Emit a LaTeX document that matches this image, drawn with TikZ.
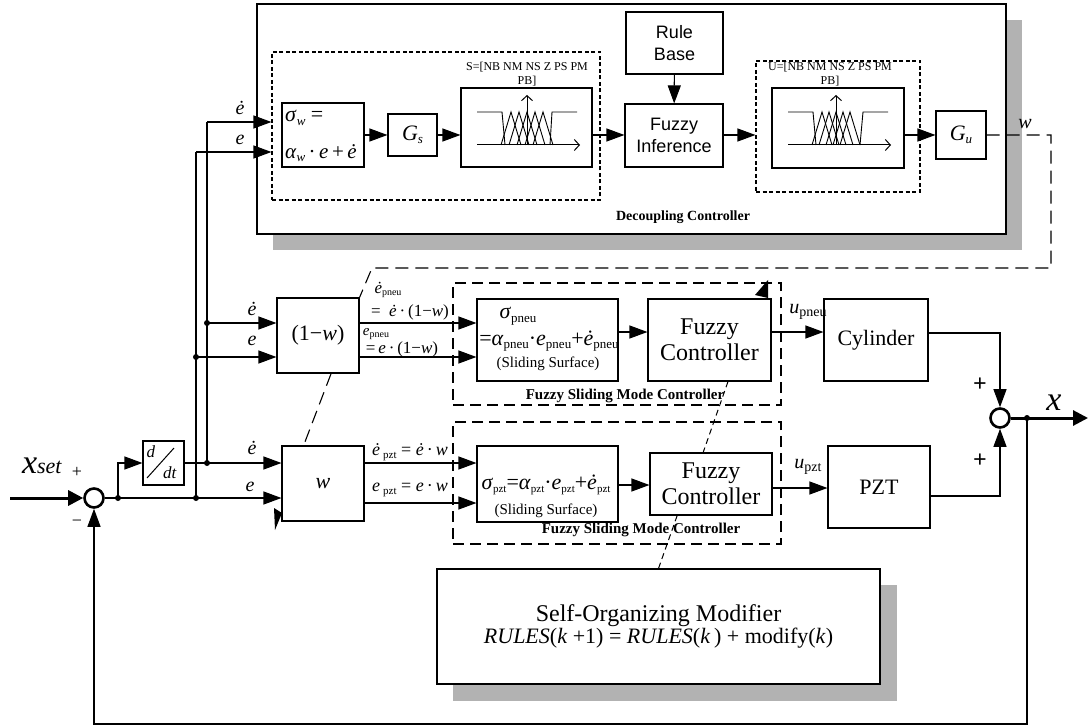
\documentclass[tikz,border=0pt]{standalone}
\usepackage{fontspec}
\setmainfont{Liberation Serif}
\newfontfamily\arialf{Liberation Sans}
\usetikzlibrary{arrows.meta}
\newcommand{\fsz}[2]{\fontsize{#1}{#2}\selectfont}
\newcommand{\sbt}[2]{\raisebox{-0.35ex}{\fontsize{#1}{#1}\selectfont #2}}
\definecolor{shadowc}{gray}{0.70}
\tikzset{
  blk/.style={draw, line width=1.1pt, inner sep=0pt, align=center},
  ln/.style={line width=1.1pt},
  arr/.style={line width=1.1pt, -{Triangle[length=18pt,width=13pt]}},
  bigarr/.style={line width=3pt, -{Triangle[length=15pt,width=15pt]}},
  dashbox/.style={draw, line width=1.1pt, dash pattern=on 4pt off 2.5pt},
  fsmbox/.style={draw, line width=1.1pt, dash pattern=on 11pt off 6pt},
  ldash/.style={line width=1.1pt, dash pattern=on 13pt off 7pt},
  sdash/.style={line width=1pt, dash pattern=on 6pt off 4pt},
  dot/.style={circle, fill, inner sep=0pt, minimum size=6pt},
  sumj/.style={circle, draw, line width=2.6pt, minimum size=19pt, inner sep=0pt},
  lbl/.style={inner sep=0pt},
  mf/.style={line width=0.9pt},
  axarr/.style={line width=1pt, -{Straight Barb[length=5pt,width=11pt]}},
  sansbig/.style={font={\arialf\fsz{18}{22}}},
  serifbig/.style={font={\fsz{24}{26}}},
  mflab/.style={lbl, align=center, font={\fsz{12}{14}}},
}
\begin{document}
\begin{tikzpicture}[x=1pt,y=-1pt]
\useasboundingbox (0,0) rectangle (1089,727);

% ---------- Decoupling controller ----------
\fill[shadowc] (273,20) rectangle (1022,250);
\node[blk, fill=white, minimum width=749, minimum height=230] (dc) at (631.5,119) {};
\node[lbl] (dclab) at (683,217) {\bfseries\fsz{14}{16}Decoupling Controller};

\node[dashbox, minimum width=328, minimum height=148] (d1) at (436,126) {};
\node[blk, minimum width=82, minimum height=64] (sw) at (323,135) {};
\node[lbl, anchor=west] (swt1) at (285,118) {\fsz{22}{22}\textit{σ}\sbt{13}{\textit{w}} =};
\node[lbl, anchor=west] (swt2) at (285,153) {\fsz{21}{21}\textit{α}\sbt{13}{\textit{w}}\,·\,\textit{e}\,+\,\textit{ė}};
\node[blk, minimum width=49, minimum height=42] (gs) at (412.5,135) {\fsz{22}{22}\textit{G}\sbt{13}{\textit{s}}};
\node[blk, minimum width=131, minimum height=79] (sb) at (526.5,127.5) {};
\node[mflab] (slab) at (527,74) {S=[NB NM NS Z PS PM\\PB]};
\node[blk, sansbig, minimum width=98, minimum height=63] (fi) at (674,135.5) {Fuzzy\\Inference};
\node[blk, sansbig, minimum width=97, minimum height=62] (rb) at (674.5,43) {Rule\\Base};
\node[dashbox, minimum width=164, minimum height=131] (d2) at (838,126.5) {};
\node[blk, minimum width=132, minimum height=80] (ub) at (838,128) {};
\node[mflab] (ulab) at (830,74) {U=[NB NM NS Z PS PM\\PB]};
\node[blk, minimum width=50, minimum height=48] (gu) at (961,135) {\fsz{22}{22}\textit{G}\sbt{13}{\textit{u}}};
\node[lbl] (wlab) at (1025,124) {\fsz{20}{20}\textit{w}};

% membership functions S
\draw[mf] (477,112) -- (502,112) -- (505,145);
\draw[mf] (550,145) -- (552,112) -- (577,112);
\foreach \p in {511,519,527,535,543} \draw[mf] (\p-10,145) -- (\p,112) -- (\p+10,145);
\draw[axarr] (477,145) -- (580,145);
\draw[axarr] (527,145) -- (527,95);
% membership functions U
\draw[mf] (788,112) -- (813,112) -- (816,145);
\draw[mf] (860,145) -- (863,112) -- (888,112);
\foreach \p in {822,829,836,843,850} \draw[mf] (\p-10,145) -- (\p,112) -- (\p+10,145);
\draw[axarr] (788,145) -- (891,145);
\draw[axarr] (836,145) -- (836,95);

\coordinate (r1) at (0,135);
\draw[arr] (sw.east |- r1) -- (gs.west |- r1);
\draw[arr] (gs.east |- r1) -- (sb.west |- r1);
\draw[arr] (sb.east |- r1) -- (fi.west |- r1);
\draw[arr] (rb) -- (fi);
\draw[arr] (fi.east |- r1) -- (d2.west |- r1);
\draw[arr] (ub.east |- r1) -- (gu.west |- r1);

% ---------- input side ----------
\node[sumj] (s1) at (94,498) {};
\node[blk, minimum width=41, minimum height=44] (ddt) at (163.5,463) {};
\node[lbl] (ddtd) at (151,452) {\fsz{17}{17}\textit{d}};
\node[lbl] (ddtt) at (170,473) {\fsz{17}{17}\textit{dt}};
\draw[line width=1pt] (147,478) -- (174,448);

\node[blk, minimum width=82, minimum height=75] (omw) at (318,335.5) {\fsz{22}{22}(1−\textit{w})};
\node[blk, minimum width=82, minimum height=75] (wb) at (323,483.5) {\fsz{22}{22}\textit{w}};

\coordinate (xin) at (10,498);
\coordinate (j1) at (118,498);
\coordinate (j2) at (196,498);
\coordinate (j3) at (207,463);
\coordinate (j4) at (207,323);
\coordinate (j5) at (196,357);
\coordinate (t1) at (207,122);
\coordinate (t2) at (196,152);

\draw[bigarr] (xin) -- (s1.west);
\draw[ln] (s1.east) -- (j1) -- (j2);
\draw[arr] (j2) -- (wb.west |- j2);
\draw[arr] (j1) |- (ddt.west);
\draw[ln] (ddt.east) -- (j3);
\draw[arr] (j3) -- (wb.west |- j3);
\draw[ln] (j3) -- (j4) -- (t1);
\draw[arr] (t1) -- (d1.west |- t1);
\draw[arr] (j4) -- (omw.west |- j4);
\draw[ln] (j2) -- (j5) -- (t2);
\draw[arr] (t2) -- (d1.west |- t2);
\draw[arr] (j5) -- (omw.west |- j5);
\foreach \c in {j1,j2,j3,j4,j5} \node[dot] at (\c) {};

\node[lbl] (le1) at (240,108) {\fsz{20}{20}\textit{ė}};
\node[lbl] (le2) at (240,140) {\fsz{20}{20}\textit{e}};
\node[lbl] (le3) at (252,309) {\fsz{20}{20}\textit{ė}};
\node[lbl] (le4) at (252,341) {\fsz{20}{20}\textit{e}};
\node[lbl] (le5) at (252,448) {\fsz{20}{20}\textit{ė}};
\node[lbl] (le6) at (250,487) {\fsz{20}{20}\textit{e}};
\node[lbl] (xset) at (42,466) {\fsz{34}{34}\textit{x}\fsz{22}{22}\textit{set}};
\node[lbl] (pl1) at (77,472) {\fsz{18}{18}+};
\node[lbl] (mi1) at (77,523) {\fsz{18}{18}−};

% ---------- pneumatic branch ----------
\node[fsmbox, minimum width=328, minimum height=122] (f1) at (617,344) {};
\node[lbl] (f1lab) at (625,396) {\bfseries\fsz{15}{15}Fuzzy Sliding Mode Controller};
\node[blk, minimum width=141, minimum height=82] (sp) at (547.5,340) {};
\node[lbl] (spt1) at (518,316) {\fsz{22}{22}\textit{σ}\sbt{13}{pneu}};
\node[lbl] (spt2) at (549,341) {\fsz{22}{22}=\textit{α}\sbt{13}{pneu}·\textit{e}\sbt{13}{pneu}+\textit{ė}\sbt{13}{pneu}};
\node[lbl] (spt3) at (548,364) {\fsz{15}{15}(Sliding Surface)};
\node[blk, serifbig, minimum width=123, minimum height=82] (fc1) at (709.5,340) {Fuzzy\\Controller};
\node[blk, minimum width=104, minimum height=82] (cyl) at (876,340) {\fsz{22}{22}Cylinder};

\node[lbl] (lp1) at (388,290) {\fsz{17}{17}\textit{ė}\sbt{10}{pneu}};
\node[lbl] (lp2) at (410,312) {\fsz{17}{17}=\enspace\textit{ė}\,·\,(1−\textit{w})};
\node[lbl] (lp3) at (376,334) {\fsz{15}{15}\textit{e}\sbt{10}{pneu}};
\node[lbl] (lp4) at (402,349) {\fsz{17}{17}=\,\textit{e}\,·\,(1−\textit{w})};

\draw[arr] (omw.east |- j4) -- (sp.west |- j4);
\draw[arr] (omw.east |- j5) -- (sp.west |- j5);
\coordinate (yp) at (0,332);
\draw[arr] (sp.east |- yp) -- (fc1.west |- yp);
\draw[arr] (fc1.east |- yp) -- (cyl.west |- yp);
\node[lbl] (up) at (808,312) {\fsz{20}{20}\textit{u}\sbt{14}{pneu}};

% ---------- PZT branch ----------
\node[fsmbox, minimum width=328, minimum height=122] (f2) at (617,483) {};
\node[lbl] (f2lab) at (641,530) {\bfseries\fsz{15}{15}Fuzzy Sliding Mode Controller};
\node[blk, minimum width=141, minimum height=76] (sz) at (547.5,484) {};
\node[lbl] (szt1) at (546,485) {\fsz{22}{22}\textit{σ}\sbt{11}{pzt}=\textit{α}\sbt{11}{pzt}·\textit{e}\sbt{11}{pzt}+\textit{ė}\sbt{11}{pzt}};
\node[lbl] (szt2) at (546,511) {\fsz{15}{15}(Sliding Surface)};
\node[blk, serifbig, minimum width=122, minimum height=62] (fc2) at (711,484) {Fuzzy\\Controller};
\node[blk, minimum width=102, minimum height=82] (pzt) at (879,487) {\fsz{22}{22}PZT};

\node[lbl] (lz1) at (410,452) {\fsz{18}{18}\textit{ė}\,\sbt{11}{pzt} = \textit{ė}\,·\,\textit{w}};
\node[lbl] (lz2) at (410,490) {\fsz{18}{18}\textit{e}\,\sbt{11}{pzt} = \textit{e}\,·\,\textit{w}};

\coordinate (yz2) at (0,503);
\coordinate (yz3) at (0,485);
\coordinate (yz4) at (0,488);
\draw[arr] (wb.east |- j3) -- (sz.west |- j3);
\draw[arr] (wb.east |- yz2) -- (sz.west |- yz2);
\draw[arr] (sz.east |- yz3) -- (fc2.west |- yz3);
\draw[arr] (fc2.east |- yz4) -- (pzt.west |- yz4);
\node[lbl] (uz) at (808,467) {\fsz{20}{20}\textit{u}\sbt{14}{pzt}};

% ---------- output summing ----------
\node[sumj] (s2) at (1000,418) {};
\coordinate (c1) at (1000,333);
\coordinate (c2) at (1000,496);
\draw[arr] (cyl.east |- c1) -- (c1) -- (s2.north);
\draw[arr] (pzt.east |- c2) -- (c2) -- (s2.south);
\node[lbl] (pl2) at (980,385) {\bfseries\fsz{24}{24}+};
\node[lbl] (pl3) at (980,461) {\bfseries\fsz{24}{24}+};
\coordinate (xo) at (1088,418);
\coordinate (j6) at (1027,418);
\coordinate (fb) at (1027,724);
\draw[bigarr] (s2.east) -- (xo);
\draw[arr] (j6) -- (fb) -| (s1.south);
\node[dot] at (j6) {};
\node[lbl] (xlab) at (1054,403) {\fsz{34}{34}\textit{x}};

% ---------- self-organizing modifier ----------
\fill[shadowc] (453,585) rectangle (897,701);
\node[blk, fill=white, minimum width=443, minimum height=115] (som) at (658.5,626.5) {\fsz{24}{27}Self-Organizing Modifier\\\fsz{22}{27}\textit{RULES}(\textit{k} +1) = \textit{RULES}(\textit{k}\,) + modify(\textit{k})};

% ---------- dashed links ----------
\coordinate (wc1) at (1051,135);
\coordinate (wc2) at (1051,268);
\coordinate (wc3) at (372,268);
\draw[ldash] (gu.east) -- (wc1) -- (wc2) -- (wc3) -- (omw.north east);
\draw[ldash] (omw.-71) -- (wb.117);
\draw[sdash] (fc1.-66) -- (fc2.104);
\draw[sdash] (fc2.-137) -- (som.north);
\fill (755,295) -- (768,280) -- (768,298) -- cycle;
\fill (274,508) -- (282,513) -- (275,530) -- cycle;
\end{tikzpicture}
\end{document}
